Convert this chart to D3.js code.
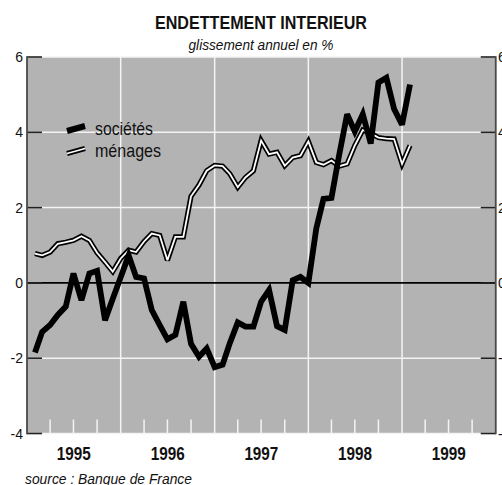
<!DOCTYPE html>
<html>
<head>
<meta charset="utf-8">
<script src="https://cdn.jsdelivr.net/npm/d3@7"></script>
<style>
  html, body { margin: 0; padding: 0; background: #ffffff; }
  svg { display: block; }
  text { font-family: "Liberation Sans", Arial, sans-serif; }
</style>
</head>
<body>
<svg id="chart" width="502" height="485"></svg>
<script>
// ---- data ----
const titleText = "ENDETTEMENT INTERIEUR";
const subtitleText = "glissement annuel en %";
const sourceText = "source : Banque de France";
const seriesNames = ["sociétés", "ménages"];
const yearLabels = ["1995", "1996", "1997", "1998", "1999"];
const yTicks = [6, 4, 2, 0, -2, -4];
// monthly observations, February 1995 to February 1999
const months = d3.timeMonth.range(new Date(1995, 1, 1), new Date(1999, 2, 1));
const societes = [-1.85, -1.30, -1.12, -0.85, -0.63, 0.25, -0.46, 0.25, 0.32, -0.99,
  -0.42, 0.15, 0.73, 0.16, 0.12, -0.72, -1.12, -1.50, -1.38, -0.50,
  -1.62, -1.96, -1.74, -2.24, -2.17, -1.60, -1.05, -1.16, -1.16, -0.50,
  -0.19, -1.15, -1.25, 0.07, 0.16, 0.00, 1.45, 2.23, 2.26, 3.40,
  4.48, 4.02, 4.48, 3.70, 5.32, 5.45, 4.62, 4.20, 5.27];
const menages = [0.78, 0.73, 0.82, 1.04, 1.08, 1.13, 1.24, 1.13, 0.80, 0.55,
  0.30, 0.65, 0.87, 0.82, 1.10, 1.31, 1.26, 0.60, 1.22, 1.22,
  2.30, 2.60, 2.98, 3.12, 3.10, 2.90, 2.54, 2.80, 2.98, 3.78,
  3.42, 3.47, 3.11, 3.33, 3.38, 3.76, 3.20, 3.14, 3.25, 3.10,
  3.16, 3.65, 4.06, 3.97, 3.86, 3.83, 3.82, 3.16, 3.65];

// ---- layout ----
const svg = d3.select("#chart");
const L = 27, R = 495.75, T = 57, B = 433.5;
const x = d3.scaleTime().domain([new Date(1995, 0, 1), new Date(2000, 0, 1)]).range([L, R]);
const y = d3.scaleLinear().domain([-4, 6]).range([B, T]);

// plot background
svg.append("rect").attr("x", L).attr("y", T).attr("width", R - L).attr("height", B - T)
  .attr("fill", "#b3b3b3");

// horizontal white gridlines
svg.append("g").selectAll("line").data(yTicks.filter(d => d !== 0)).join("line")
  .attr("x1", L).attr("x2", R).attr("y1", d => y(d)).attr("y2", d => y(d))
  .attr("stroke", "#f4f4f4").attr("stroke-width", 1.5);

// vertical white gridlines at year boundaries
const yearStarts = d3.timeYear.range(new Date(1996, 0, 1), new Date(2000, 0, 1));
svg.append("g").selectAll("line").data(yearStarts).join("line")
  .attr("x1", d => x(d)).attr("x2", d => x(d)).attr("y1", T).attr("y2", B)
  .attr("stroke", "#f4f4f4").attr("stroke-width", 1.5);

// quarter ticks at the bottom (white)
const quarters = d3.timeMonth.every(3).range(new Date(1995, 0, 1), new Date(2000, 0, 1))
  .filter(d => d.getMonth() !== 0);
svg.append("g").selectAll("line").data(quarters).join("line")
  .attr("x1", d => x(d)).attr("x2", d => x(d)).attr("y1", B - 14).attr("y2", B)
  .attr("stroke", "#f4f4f4").attr("stroke-width", 1.5);

// zero line
svg.append("line").attr("x1", L).attr("x2", R).attr("y1", y(0)).attr("y2", y(0))
  .attr("stroke", "#000").attr("stroke-width", 1.6);

// black y ticks inside on both sides
const tk = svg.append("g").attr("stroke", "#222").attr("stroke-width", 1.6);
tk.selectAll("line.l").data(yTicks).join("line").attr("class", "l")
  .attr("x1", L).attr("x2", L + 15).attr("y1", d => y(d)).attr("y2", d => y(d));
tk.selectAll("line.r").data(yTicks).join("line").attr("class", "r")
  .attr("x1", R - 15).attr("x2", R).attr("y1", d => y(d)).attr("y2", d => y(d));

// side borders
svg.append("line").attr("x1", L).attr("x2", L).attr("y1", T - 0.8).attr("y2", B + 0.8)
  .attr("stroke", "#4a4a4a").attr("stroke-width", 1.8);
svg.append("line").attr("x1", R).attr("x2", R).attr("y1", T - 0.8).attr("y2", B + 0.8)
  .attr("stroke", "#4a4a4a").attr("stroke-width", 1.8);

// y labels
svg.append("g").selectAll("text").data(yTicks).join("text")
  .attr("x", 23).attr("y", d => y(d)).attr("dy", "0.36em").attr("text-anchor", "end")
  .attr("font-size", 14).attr("fill", "#111").text(d => d);
svg.append("g").selectAll("text").data(yTicks).join("text")
  .attr("x", 498).attr("y", d => y(d)).attr("dy", "0.36em").attr("text-anchor", "start")
  .attr("font-size", 14).attr("fill", "#111").text(d => d);

// series lines
const line = d3.line().x((d, i) => x(months[i])).y(d => y(d));
svg.append("path").datum(menages).attr("d", line).attr("fill", "none")
  .attr("stroke", "#000").attr("stroke-width", 5.2).attr("stroke-linejoin", "miter").attr("stroke-miterlimit", 3);
svg.append("path").datum(menages).attr("d", line).attr("fill", "none")
  .attr("stroke", "#fff").attr("stroke-width", 1.8).attr("stroke-linejoin", "miter").attr("stroke-miterlimit", 3);
svg.append("path").datum(societes).attr("d", line).attr("fill", "none")
  .attr("stroke", "#000").attr("stroke-width", 5.8).attr("stroke-linejoin", "miter").attr("stroke-miterlimit", 3);

// legend
const lg = svg.append("g");
lg.append("line").attr("x1", 67).attr("y1", 131).attr("x2", 85).attr("y2", 126)
  .attr("stroke", "#000").attr("stroke-width", 6);
lg.append("line").attr("x1", 67).attr("y1", 153.5).attr("x2", 85).attr("y2", 148.5)
  .attr("stroke", "#000").attr("stroke-width", 5.2);
lg.append("line").attr("x1", 67).attr("y1", 153.5).attr("x2", 85).attr("y2", 148.5)
  .attr("stroke", "#fff").attr("stroke-width", 1.8);
lg.append("text").attr("x", 95).attr("y", 135).attr("font-size", 19).attr("fill", "#111")
  .attr("textLength", 58).attr("lengthAdjust", "spacingAndGlyphs").text(seriesNames[0]);
lg.append("text").attr("x", 95).attr("y", 157).attr("font-size", 19).attr("fill", "#111")
  .attr("textLength", 66).attr("lengthAdjust", "spacingAndGlyphs").text(seriesNames[1]);

// year labels (centered in each year)
svg.append("g").selectAll("text").data(yearLabels).join("text")
  .attr("x", d => x(new Date(+d, 6, 2)))
  .attr("y", 460).attr("text-anchor", "middle").attr("font-size", 18).attr("font-weight", "bold")
  .attr("fill", "#111").attr("textLength", 34).attr("lengthAdjust", "spacingAndGlyphs").text(d => d);

// titles
svg.append("text").attr("x", 261).attr("y", 29).attr("text-anchor", "middle")
  .attr("font-size", 17.7).attr("font-weight", "bold").attr("fill", "#111")
  .attr("textLength", 212).attr("lengthAdjust", "spacingAndGlyphs").text(titleText);
svg.append("text").attr("x", 261).attr("y", 50).attr("text-anchor", "middle")
  .attr("font-size", 14).attr("font-style", "italic").attr("fill", "#111")
  .attr("textLength", 145).attr("lengthAdjust", "spacingAndGlyphs").text(subtitleText);
svg.append("text").attr("x", 25).attr("y", 484).attr("font-size", 14).attr("font-style", "italic")
  .attr("fill", "#111").attr("textLength", 167).attr("lengthAdjust", "spacingAndGlyphs").text(sourceText);
</script>
</body>
</html>
